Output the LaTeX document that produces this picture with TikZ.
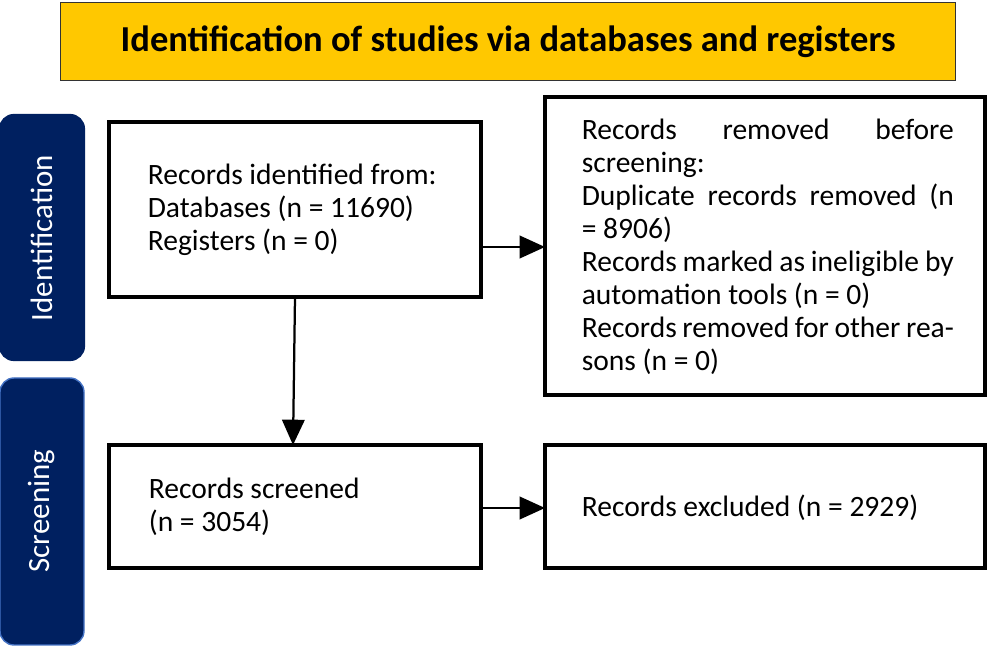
\documentclass[tikz,border=0pt]{standalone}
\usepackage{fontspec}
\setmainfont{Carlito}
\usetikzlibrary{arrows.meta}
\definecolor{prismayellow}{HTML}{FFC800}
\definecolor{prismanavy}{HTML}{002060}
\definecolor{prismablue}{HTML}{4472C4}

\begin{document}
\begin{tikzpicture}[x=0.025cm,y=-0.025cm,>={Triangle[length=18pt,width=16pt]},
                    line width=1.6pt]

  \tikzset{
    box/.style={draw,line width=2.2pt,inner sep=0pt},
    txt/.style={font=\fontsize{21}{23.5}\selectfont,align=left,anchor=west},
    side/.style={rounded corners=10pt,fill=prismanavy,text=white}
  }

  \useasboundingbox (0,0) rectangle (995,648);

  % header
  \node[draw=black!80,line width=0.8pt,fill=prismayellow,minimum width=895*0.025cm,
        minimum height=78*0.025cm,anchor=north west,
        font=\fontsize{26}{28}\selectfont\bfseries] (HDR) at (60,2)
        {Identification of studies via databases and registers};

  % side bars
  \filldraw[side,draw=prismanavy] (0,115) rectangle (84,360);
  \node[text=white,rotate=90,font=\fontsize{22}{24}\selectfont] (IDN) at (42,238) {Identification};
  \filldraw[side,draw=prismablue,line width=1pt] (0,378) rectangle (84,645);
  \node[text=white,rotate=90,font=\fontsize{22}{24}\selectfont] (SCN) at (42,511) {Screening};

  % boxes
  \draw[box] (109,122) rectangle (481,297);
  \draw[box] (545,97)  rectangle (985,395);
  \draw[box] (109,445) rectangle (481,568);
  \draw[box] (545,445) rectangle (985,568);
  \coordinate (IDR) at (481,247);  \coordinate (REM) at (545,247);
  \coordinate (IDB) at (295,297);  \coordinate (SCT) at (293,445);
  \coordinate (SCR) at (481,508);  \coordinate (EXL) at (545,508);

  \node[txt] (IDT) at (142,210) {Records identified from:\\Databases (n = 11690)\\Registers (n = 0)};
  \node[txt,align=justify,text width=372*0.025cm] (RMT) at (576,247)
       {\hyphenpenalty=10000 Records removed before screening:\\Duplicate records removed (n = 8906)\\
        Records marked as ineligible by automation tools (n = 0)\\
        Records removed for other reasons (n = 0)};
  \node[txt] (SCX) at (143,507) {Records screened\\(n = 3054)};
  \node[txt] (EXT) at (576,508) {Records excluded (n = 2929)};

  \draw[->] (IDR) -- (REM);
  \draw[->] (IDB) -- (SCT);
  \draw[->] (SCR) -- (EXL);
\end{tikzpicture}
\end{document}
